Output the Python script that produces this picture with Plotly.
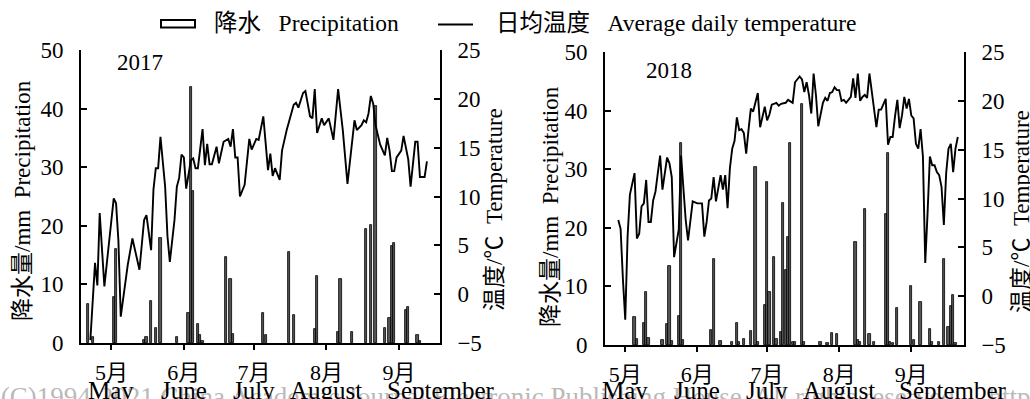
import plotly.graph_objects as go

# ---------------- data ----------------
month_ticks = ['05-01', '06-01', '07-01', '08-01', '09-01']
month_labels_cn = ['5月', '6月', '7月', '8月', '9月']
month_labels_en = ['May', 'June', 'July', 'August', 'September']

# 2017 daily precipitation (mm)
prec17_dates = ['04-21', '04-23', '05-02', '05-03', '05-15', '05-16', '05-18', '05-20', '05-22', '05-29',
                '06-03', '06-04', '06-05', '06-07', '06-08', '06-09', '06-19', '06-21', '06-22',
                '07-05', '07-06', '07-16', '07-18', '07-27', '07-28',
                '08-06', '08-07', '08-12', '08-18', '08-20', '08-22', '08-26', '08-28', '08-29', '08-30',
                '09-04', '09-05', '09-09', '09-10']
prec17_mm = [6.6, 1.1, 7.8, 16.0, 0.5, 1.0, 7.2, 2.5, 18.0, 1.0,
             5.2, 43.7, 25.9, 3.2, 1.4, 0.4, 14.7, 11.0, 1.5,
             5.2, 1.4, 15.5, 4.7, 2.4, 11.4,
             1.8, 10.9, 1.8, 19.4, 20.2, 40.5, 2.5, 4.3, 16.6, 17.1,
             5.6, 6.1, 1.4, 0.4]

# 2017 average daily temperature (°C)
temp17_dates = ['04-22', '04-24', '04-25', '04-26', '04-28', '05-02', '05-03', '05-04', '05-05', '05-08',
                '05-10', '05-13', '05-15', '05-16', '05-18', '05-19', '05-20', '05-21', '05-22', '05-24',
                '05-25', '05-26', '05-28', '05-29', '05-30', '05-31', '06-01', '06-02', '06-04', '06-05',
                '06-06', '06-07', '06-09', '06-10', '06-11', '06-12', '06-13', '06-15', '06-16', '06-18',
                '06-20', '06-21', '06-22', '06-23', '06-24', '06-25', '06-27', '06-29', '06-30', '07-02',
                '07-03', '07-05', '07-07', '07-08', '07-09', '07-10', '07-12', '07-13', '07-15', '07-18',
                '07-19', '07-20', '07-22', '07-23', '07-25', '07-26', '07-27', '07-28', '07-30', '07-31',
                '08-02', '08-04', '08-06', '08-08', '08-10', '08-11', '08-13', '08-14', '08-16', '08-17',
                '08-18', '08-19', '08-20', '08-21', '08-22', '08-24', '08-26', '08-27', '08-28', '08-29',
                '08-30', '08-31', '09-02', '09-03', '09-05', '09-06', '09-08', '09-09', '09-10', '09-12',
                '09-13']
temp17_c = [-4.7, 3.2, 0.9, 8.3, 0.8, 9.8, 9.3, 5.5, -2.3, 3.0,
            5.7, 2.5, 7.6, 8.1, 4.5, 10.7, 12.9, 12.9, 16.1, 11.0,
            5.9, 3.3, 7.6, 11.0, 11.9, 14.3, 14.0, 10.8, 13.7, 13.9,
            12.9, 12.9, 16.9, 13.2, 15.4, 13.3, 13.3, 15.1, 13.4, 15.6,
            15.9, 15.1, 16.9, 14.0, 14.0, 10.0, 11.2, 15.9, 14.8, 15.9,
            15.8, 18.2, 12.7, 14.4, 12.1, 12.9, 11.7, 14.7, 16.8, 19.4,
            19.6, 19.1, 20.6, 20.8, 18.2, 18.0, 21.0, 16.5, 18.0, 17.3,
            18.0, 15.8, 21.0, 16.8, 11.3, 13.5, 17.8, 16.8, 17.3, 17.8,
            17.6, 18.5, 20.3, 19.5, 17.3, 15.3, 14.2, 16.0, 14.7, 12.6,
            12.6, 14.0, 14.7, 16.2, 13.8, 11.0, 15.6, 15.6, 12.0, 12.0,
            13.6]

# 2018 daily precipitation (mm)
prec18_dates = ['05-05', '05-06', '05-09', '05-10', '05-11', '05-17', '05-19', '05-20', '05-21', '05-24',
                '05-25', '05-26', '06-07', '06-08', '06-11', '06-16', '06-18', '06-19', '06-21', '06-24',
                '06-26', '06-27', '06-30', '07-01', '07-02', '07-04', '07-05', '07-07', '07-08', '07-09',
                '07-10', '07-11', '07-12', '07-13', '07-16', '07-17', '07-24', '07-27', '07-29', '07-31',
                '08-08', '08-09', '08-10', '08-12', '08-14', '08-16', '08-21', '08-22', '08-23', '08-24',
                '08-26', '09-01', '09-02', '09-05', '09-09', '09-10', '09-13', '09-15', '09-17', '09-18',
                '09-19', '09-20']
prec18_mm = [4.7, 1.0, 3.7, 9.1, 1.2, 0.8, 3.6, 13.4, 0.6, 5.0,
             34.4, 0.9, 2.6, 14.6, 0.7, 0.5, 3.7, 0.5, 1.0, 2.4,
             30.3, 0.5, 6.9, 27.9, 9.1, 15.1, 1.0, 2.2, 24.2, 12.8,
             18.5, 34.4, 0.5, 0.5, 41.2, 0.5, 0.5, 0.3, 2.1, 1.8,
             17.6, 0.8, 0.5, 23.2, 1.8, 0.5, 22.4, 32.7, 0.5, 0.4,
             6.3, 10.1, 0.9, 7.3, 2.7, 0.5, 0.5, 14.7, 3.0, 6.7,
             8.5, 0.4]

# 2018 average daily temperature (°C)
temp18_dates = ['04-28', '04-29', '04-30', '05-01', '05-02', '05-03', '05-05', '05-06', '05-07', '05-08',
                '05-09', '05-10', '05-11', '05-12', '05-13', '05-14', '05-15', '05-16', '05-17', '05-19',
                '05-20', '05-21', '05-22', '05-24', '05-25', '05-27', '05-28', '05-29', '05-30', '06-01',
                '06-03', '06-04', '06-05', '06-06', '06-07', '06-08', '06-09', '06-11', '06-12', '06-13',
                '06-14', '06-15', '06-16', '06-17', '06-18', '06-19', '06-20', '06-21', '06-22', '06-23',
                '06-24', '06-25', '06-27', '06-28', '06-29', '06-30', '07-01', '07-02', '07-03', '07-05',
                '07-06', '07-07', '07-09', '07-10', '07-12', '07-13', '07-15', '07-16', '07-17', '07-18',
                '07-19', '07-20', '07-21', '07-22', '07-23', '07-25', '07-26', '07-27', '07-28', '07-29',
                '07-30', '07-31', '08-01', '08-02', '08-03', '08-04', '08-06', '08-07', '08-08', '08-09',
                '08-10', '08-11', '08-12', '08-13', '08-14', '08-15', '08-17', '08-18', '08-19', '08-21',
                '08-22', '08-23', '08-24', '08-25', '08-26', '08-27', '08-28', '08-29', '08-30', '08-31',
                '09-01', '09-02', '09-03', '09-04', '09-05', '09-06', '09-07', '09-08', '09-09', '09-10',
                '09-11', '09-12', '09-13', '09-14', '09-15', '09-16', '09-17', '09-18', '09-19', '09-20',
                '09-21']
temp18_c = [7.8, 6.9, 1.7, -2.4, 6.1, 10.4, 12.6, 5.9, 6.4, 9.2,
            9.5, 11.9, 7.6, 7.6, 9.8, 10.7, 12.6, 14.4, 10.9, 14.2,
            13.6, 12.2, 4.0, 6.8, 14.4, 7.8, 5.7, 7.6, 9.7, 9.5,
            9.5, 6.1, 7.6, 9.8, 10.0, 12.2, 9.7, 12.4, 10.9, 12.4,
            9.0, 13.1, 15.1, 15.9, 18.3, 17.0, 17.1, 16.7, 14.6, 17.0,
            19.2, 18.9, 20.8, 17.3, 18.4, 19.4, 18.0, 18.6, 19.6, 19.8,
            19.5, 19.7, 19.8, 20.1, 19.8, 21.9, 22.5, 22.2, 20.9, 21.9,
            20.6, 18.7, 22.8, 20.6, 17.4, 19.8, 20.3, 20.0, 20.8, 20.9,
            21.4, 21.1, 21.1, 20.0, 20.1, 19.8, 20.4, 22.3, 20.3, 22.8,
            20.0, 20.4, 20.6, 20.3, 22.8, 21.0, 17.3, 19.1, 19.1, 20.2,
            15.5, 16.3, 16.3, 18.4, 20.1, 17.2, 18.5, 20.4, 19.2, 20.2,
            18.5, 18.2, 15.6, 15.1, 17.1, 14.3, 3.4, 8.5, 14.3, 13.4,
            13.4, 12.7, 12.4, 11.2, 7.3, 12.6, 15.1, 15.6, 12.7, 15.1,
            16.3]

year_labels = ['2017', '2018']

# ---------------- styling ----------------
W, H = 1030, 399
FONT = 'Liberation Serif, Noto Sans CJK SC, serif'
FS = 23
BAR_FILL = '#555555'
DAY_MS = 86400000


def px_x(p):
    return p / W


def px_y(p):
    return 1 - p / H


def full(year, md):
    return [f'{year}-{d}' for d in md]


fig = go.Figure()

# 2017 panel
fig.add_trace(go.Bar(x=full(2017, prec17_dates), y=prec17_mm, width=0.95 * DAY_MS,
                     marker=dict(color=BAR_FILL, line=dict(color='black', width=0.8)),
                     xaxis='x', yaxis='y', name='降水 Precipitation', showlegend=False))
fig.add_trace(go.Scatter(x=full(2017, temp17_dates), y=temp17_c, mode='lines',
                         line=dict(color='black', width=1.9),
                         xaxis='x', yaxis='y2', name='日均温度 Average daily temperature', showlegend=False))
# 2018 panel
fig.add_trace(go.Bar(x=full(2018, prec18_dates), y=prec18_mm, width=0.95 * DAY_MS,
                     marker=dict(color=BAR_FILL, line=dict(color='black', width=0.8)),
                     xaxis='x2', yaxis='y3', name='降水 Precipitation', showlegend=False))
fig.add_trace(go.Scatter(x=full(2018, temp18_dates), y=temp18_c, mode='lines',
                         line=dict(color='black', width=1.9),
                         xaxis='x2', yaxis='y4', name='日均温度 Average daily temperature', showlegend=False))

tickfont = dict(family=FONT, size=FS, color='black')
xtickfont = dict(family=FONT, size=22, color='black')

xcommon = dict(type='date', showgrid=False, zeroline=False, showline=True, linecolor='black',
               linewidth=1.6, ticks='outside', ticklen=5, tickwidth=1.6, tickcolor='black',
               tickfont=xtickfont, tickmode='array', tickangle=0, automargin=False,
               ticklabelstandoff=4, ticktext=month_labels_cn)
ycommon = dict(showgrid=False, zeroline=False, showline=True, linecolor='black', linewidth=1.6,
               ticks='inside', ticklen=6, tickwidth=1.6, tickcolor='black', tickfont=tickfont,
               ticklabelstandoff=11, automargin=False)

fig.update_layout(
    width=W, height=H,
    margin=dict(l=0, r=0, t=0, b=0, autoexpand=False),
    paper_bgcolor='white', plot_bgcolor='white',
    showlegend=False,
    bargap=0,
    xaxis=dict(xcommon, domain=[px_x(81), px_x(440)], anchor='y',
               range=['2017-04-18 00:00', '2017-09-18 14:00'],
               tickvals=full(2017, month_ticks)),
    yaxis=dict(ycommon, domain=[px_y(343), px_y(50)], anchor='x', range=[0, 50], dtick=10),
    yaxis2=dict(ycommon, overlaying='y', side='right', anchor='x', range=[-5, 25], dtick=5),
    xaxis2=dict(xcommon, domain=[px_x(605), px_x(964)], anchor='y3',
                range=['2018-04-22 07:00', '2018-09-23 16:00'],
                tickvals=full(2018, month_ticks)),
    yaxis3=dict(ycommon, domain=[px_y(345), px_y(52)], anchor='x2', range=[0, 50], dtick=10),
    yaxis4=dict(ycommon, overlaying='y3', side='right', anchor='x2', range=[-5, 25], dtick=5),
)

annots = []
tf = dict(family=FONT, size=FS, color='black')
lf = dict(family=FONT, size=23.5, color='black')
ef = dict(family=FONT, size=25, color='black')
# English month names under the Chinese tick labels
for xref, year in (('x', 2017), ('x2', 2018)):
    for md, name in zip(month_ticks, month_labels_en):
        if name == 'September':
            # the long label starts at the left edge of "9月" and runs to the right
            annots.append(dict(text=name, x=f'{year}-{md}', xref=xref, y=px_y(390), yref='paper',
                               showarrow=False, font=ef, xanchor='left', yanchor='middle', xshift=-14))
        else:
            annots.append(dict(text=name, x=f'{year}-{md}', xref=xref, y=px_y(390), yref='paper',
                               showarrow=False, font=ef, xanchor='center', yanchor='middle'))
# year labels
annots.append(dict(text=year_labels[0], x=px_x(140), y=px_y(62), xref='paper', yref='paper',
                   showarrow=False, font=tf, xanchor='center', yanchor='middle'))
annots.append(dict(text=year_labels[1], x=px_x(669), y=px_y(70), xref='paper', yref='paper',
                   showarrow=False, font=tf, xanchor='center', yanchor='middle'))
# axis titles
nb = '\u00a0\u00a0'
for (cx, cy, txt) in [(22, 201, '降水量/mm' + nb + 'Precipitation'),
                      (494, 210, '温度/℃' + nb + 'Temperature'),
                      (550, 207, '降水量/mm' + nb + 'Precipitation'),
                      (1021, 212, '温度/℃' + nb + 'Temperature')]:
    annots.append(dict(text=txt, x=px_x(cx), y=px_y(cy), xref='paper', yref='paper', showarrow=False,
                       font=tf, textangle=-90, xanchor='center', yanchor='middle'))
# legend text
annots.append(dict(text='降水' + '\u00a0' * 3 + 'Precipitation', x=px_x(212), y=px_y(23),
                   xref='paper', yref='paper', showarrow=False, font=lf, xanchor='left', yanchor='middle'))
annots.append(dict(text='日均温度' + '\u00a0' * 3 + 'Average daily temperature', x=px_x(494), y=px_y(23),
                   xref='paper', yref='paper', showarrow=False, font=lf, xanchor='left', yanchor='middle'))

shapes = [
    # legend swatches
    dict(type='rect', xref='paper', yref='paper', x0=px_x(161), x1=px_x(195), y0=px_y(27.5), y1=px_y(20),
         line=dict(color='black', width=2), fillcolor='white'),
    dict(type='line', xref='paper', yref='paper', x0=px_x(438), x1=px_x(473), y0=px_y(24.5), y1=px_y(24.5),
         line=dict(color='black', width=2)),
    # watermark (below everything)
    dict(type='rect', xref='paper', yref='paper', x0=-0.005, x1=1.2, y0=px_y(408), y1=px_y(380),
         line=dict(width=0), fillcolor='rgba(0,0,0,0)', layer='below',
         label=dict(text='(C)1994-2021 China Academic Journal Electronic Publishing House. All rights reserved.    http://www.cnki.net',
                    textposition='middle left',
                    font=dict(family=FONT, size=27, color='#b9b9b9'))),
]

fig.update_layout(annotations=annots, shapes=shapes)

fig.write_html('out.html', config={'displayModeBar': False},
               post_script="document.body.style.margin='0px';")
